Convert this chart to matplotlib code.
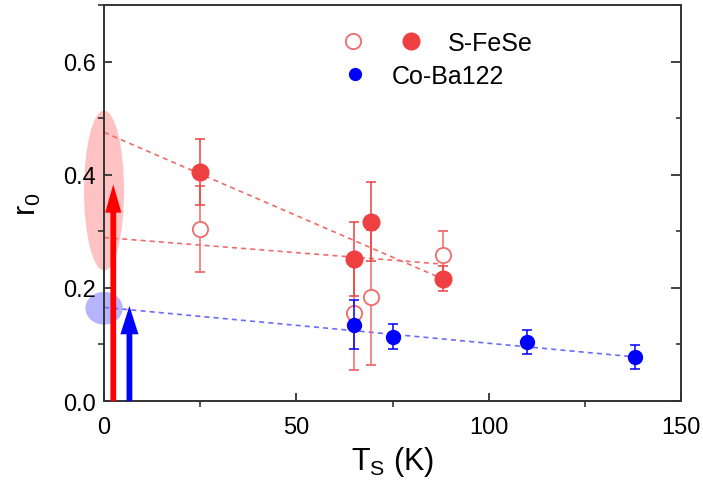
import matplotlib
matplotlib.use("Agg")
import matplotlib.pyplot as plt
from matplotlib.lines import Line2D
from matplotlib.patches import Ellipse
from matplotlib.legend_handler import HandlerTuple
from matplotlib.ticker import MultipleLocator

plt.rcParams["font.family"] = ["Liberation Sans", "DejaVu Sans"]
plt.rcParams["mathtext.fontset"] = "custom"
plt.rcParams["mathtext.rm"] = "Liberation Sans"
plt.rcParams["mathtext.it"] = "Liberation Sans"

# S-FeSe (open and filled symbols)
ts_fese_open = [25, 65, 69.5, 88]
r0_fese_open = [0.304, 0.155, 0.183, 0.258]
err_fese_open = [0.076, 0.10, 0.12, 0.043]

ts_fese_filled = [25, 65, 69.5, 88]
r0_fese_filled = [0.405, 0.251, 0.317, 0.216]
err_fese_filled = [0.058, 0.066, 0.07, 0.022]

# Co-Ba122
ts_ba = [65, 75, 110, 138]
r0_ba = [0.135, 0.114, 0.104, 0.078]
err_ba = [0.043, 0.022, 0.021, 0.021]

# dashed guide lines (end points)
fit_filled_t = [0, 88]
fit_filled_r = [0.475, 0.216]
fit_open_t = [0, 88]
fit_open_r = [0.289, 0.242]
fit_ba_t = [0, 138]
fit_ba_r = [0.1655, 0.078]

# shaded ellipses at T=0 (center r, height) and arrows (x, top)
ell_red = (0.372, 0.283)
ell_blue = (0.164, 0.058)
arrow_red = (2.4, 0.383)
arrow_blue = (6.6, 0.168)

red = "#ee4040"
red_light = "#f26a6a"
blue = "#0000ff"

fig = plt.figure(figsize=(7.03, 4.81), dpi=100)
ax = fig.add_axes([0.148, 0.1642, 0.8207, 0.8233])

ax.add_patch(Ellipse((0, ell_red[0]), 10.4, ell_red[1], color="#ff2020",
                     alpha=0.27, lw=0, clip_on=False, zorder=1))
ax.add_patch(Ellipse((0, ell_blue[0]), 9.7, ell_blue[1], color="#2020ff",
                     alpha=0.33, lw=0, clip_on=False, zorder=1))

ax.plot(fit_filled_t, fit_filled_r, ls=(0, (3, 2.5)), color=red_light, lw=1.2, zorder=2)
ax.plot(fit_open_t, fit_open_r, ls=(0, (3, 2.5)), color=red_light, lw=1.2, zorder=2)
ax.plot(fit_ba_t, fit_ba_r, ls=(0, (3, 2.5)), color="#6a6aff", lw=1.2, zorder=2)

ax.errorbar(ts_fese_open, r0_fese_open, yerr=err_fese_open, fmt="o", ms=11,
            mfc="white", mec=red_light, mew=1.3, ecolor=red_light, elinewidth=1.1,
            capsize=3.8, capthick=1.1, zorder=3)
ax.errorbar(ts_fese_filled, r0_fese_filled, yerr=err_fese_filled, fmt="o", ms=12,
            mfc=red, mec=red, ecolor=red, elinewidth=1.1,
            capsize=3.8, capthick=1.1, zorder=4)
ax.errorbar(ts_ba, r0_ba, yerr=err_ba, fmt="o", ms=10, mfc=blue, mec=blue,
            ecolor=blue, elinewidth=1.1, capsize=3.8, capthick=1.1, zorder=5)

ax.arrow(arrow_red[0], 0, 0, arrow_red[1], width=1.5, head_width=4.2,
         head_length=0.05, length_includes_head=True, color="#ff0000",
         lw=0, clip_on=False, zorder=6)
ax.arrow(arrow_blue[0], 0, 0, arrow_blue[1], width=1.5, head_width=4.7,
         head_length=0.05, length_includes_head=True, color="#0000ff",
         lw=0, clip_on=False, zorder=6)

ax.set_xlim(0, 150)
ax.set_ylim(0, 0.7)
ax.xaxis.set_major_locator(MultipleLocator(50))
ax.xaxis.set_minor_locator(MultipleLocator(25))
ax.yaxis.set_major_locator(MultipleLocator(0.2))
ax.yaxis.set_minor_locator(MultipleLocator(0.1))
ax.set_yticks([0.0, 0.2, 0.4, 0.6])
ax.set_yticklabels(["0.0", "0.2", "0.4", "0.6"])

for s in ax.spines.values():
    s.set_linewidth(1.4)
    s.set_color("#333333")

ax.tick_params(which="major", direction="in", length=6, width=1.3,
               labelsize=17, color="#333333")
ax.tick_params(which="minor", direction="out", length=4, width=1.2,
               color="#333333")
ax.tick_params(axis="x", which="major", pad=11)
ax.tick_params(axis="y", which="major", pad=6)

ax2 = ax.twinx()
ax2.set_ylim(0, 0.7)
ax2.yaxis.set_major_locator(MultipleLocator(0.2))
ax2.yaxis.set_minor_locator(MultipleLocator(0.1))
ax2.tick_params(which="both", direction="in", labelright=False, color="#333333")
ax2.tick_params(which="major", length=7, width=1.3)
ax2.tick_params(which="minor", length=3.5, width=1.2)
for s in ax2.spines.values():
    s.set_visible(False)

ax.set_xlabel(r"T$_\mathrm{S}$ (K)", fontsize=22, labelpad=4)
ax.set_ylabel(r"r$_0$", fontsize=22, labelpad=14)

h_open = Line2D([], [], ls="none", marker="o", ms=11, mfc="white",
                mec=red_light, mew=1.3)
h_filled = Line2D([], [], ls="none", marker="o", ms=12, mfc=red, mec=red)
h_blue = Line2D([], [], ls="none", marker="o", ms=8.5, mfc=blue, mec=blue)

leg1 = ax.legend([(h_open, h_filled)], ["S-FeSe"],
                 handler_map={tuple: HandlerTuple(ndivide=None, pad=0)},
                 handlelength=4.64, handletextpad=0.32, frameon=False,
                 fontsize=18, loc="center left", borderpad=0, borderaxespad=0,
                 bbox_to_anchor=(0.3813, 0.904))
ax.add_artist(leg1)
ax.legend([h_blue], ["Co-Ba122"], handlelength=2.0, handletextpad=0.48,
          frameon=False, fontsize=18, loc="center left", borderpad=0,
          borderaxespad=0, bbox_to_anchor=(0.3917, 0.8207))

fig.savefig("out.png", dpi=100)
